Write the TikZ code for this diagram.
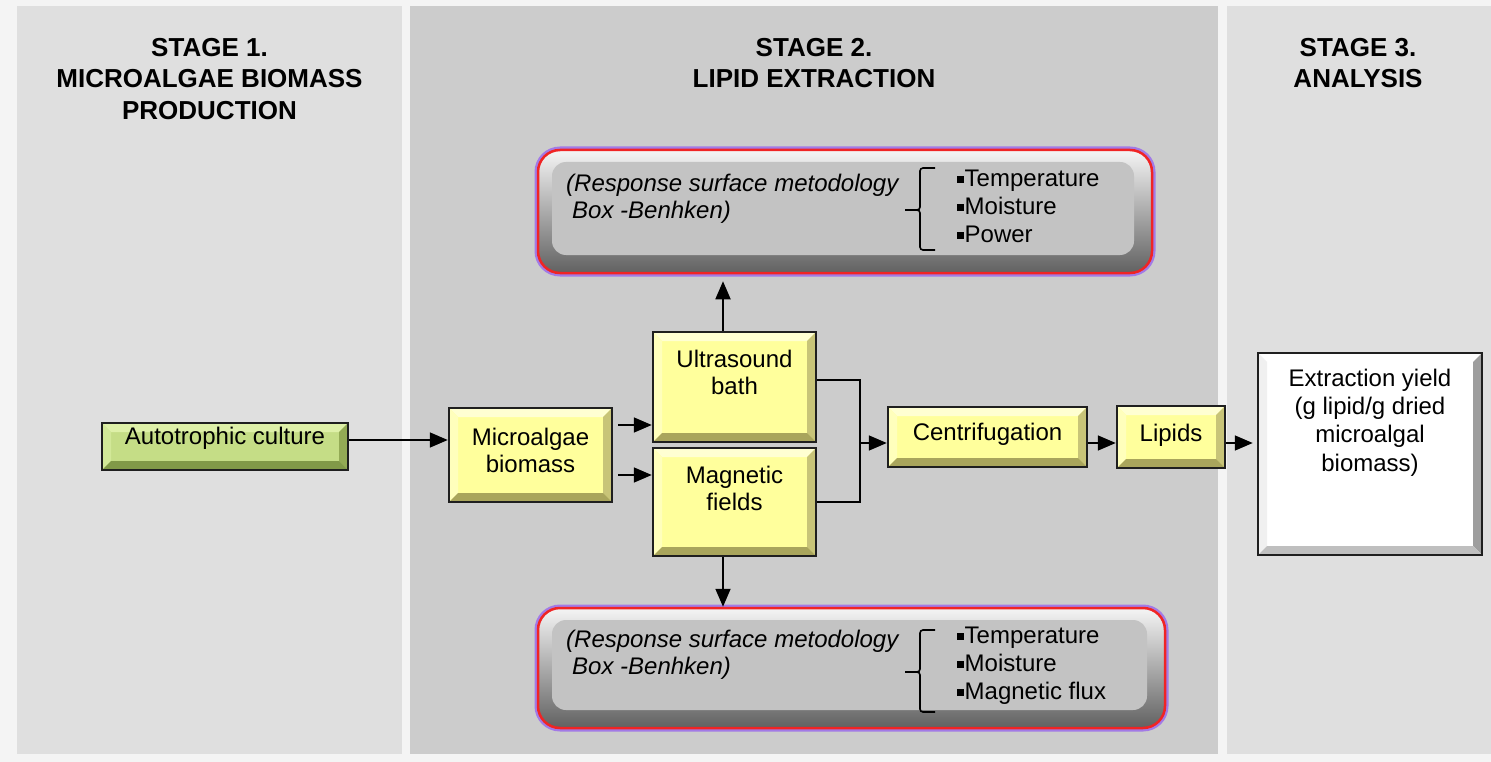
\documentclass[tikz,border=0pt]{standalone}
\usepackage{fontspec}
\setmainfont{Liberation Sans}
\usetikzlibrary{arrows.meta}

\definecolor{pagebg}{HTML}{F4F4F4}
\definecolor{sidepanel}{HTML}{DFDFDF}
\definecolor{midpanel}{HTML}{CCCCCC}
\definecolor{redline}{HTML}{F02424}
\definecolor{glowc}{HTML}{A27AE6}
\definecolor{gface}{HTML}{C3C3C3}
% yellow bevel
\definecolor{yface}{HTML}{FFFF9C}
\definecolor{ytop}{HTML}{FFFFD2}
\definecolor{yleft}{HTML}{FFFFBC}
\definecolor{yright}{HTML}{C8C478}
\definecolor{ybot}{HTML}{A9A55C}
% green bevel
\definecolor{nface}{HTML}{C5DD86}
\definecolor{ntop}{HTML}{DEF0A8}
\definecolor{nleft}{HTML}{D2E898}
\definecolor{nright}{HTML}{93AA55}
\definecolor{nbot}{HTML}{819948}

\newcommand{\sqbul}{\raisebox{3.5pt}{\rule{6.5pt}{6.5pt}}\hspace{1pt}}
\def\bw{9pt}

\tikzset{
  bevel/.style n args={5}{fill=#1, path picture={
    \fill[#2] (path picture bounding box.north west) -- (path picture bounding box.north east)
      -- ++(-\bw,-\bw) -- ([shift={(\bw,-\bw)}]path picture bounding box.north west) -- cycle;
    \fill[#3] (path picture bounding box.north west) -- (path picture bounding box.south west)
      -- ++(\bw,\bw) -- ([shift={(\bw,-\bw)}]path picture bounding box.north west) -- cycle;
    \fill[#4] (path picture bounding box.north east) -- (path picture bounding box.south east)
      -- ++(-\bw,\bw) -- ([shift={(-\bw,-\bw)}]path picture bounding box.north east) -- cycle;
    \fill[#5] (path picture bounding box.south west) -- (path picture bounding box.south east)
      -- ++(-\bw,\bw) -- ([shift={(\bw,\bw)}]path picture bounding box.south west) -- cycle;
  }},
  box/.style={draw=black!88, line width=2.5pt, inner sep=0pt},
  ybox/.style={box, bevel={yface}{ytop}{yleft}{yright}{ybot}},
  gnbox/.style={box, bevel={nface}{ntop}{nleft}{nright}{nbot}},
  wbox/.style={box, bevel={white}{white}{black!6}{black!38}{black!25}},
  gbox/.style={rounded corners=22pt, draw=redline, line width=2.5pt, top color=black!4, bottom color=black!62,
    preaction={draw=glowc, line width=7pt},
    path picture={\fill[gface, rounded corners=14pt] ([shift={(14pt,-12pt)}]path picture bounding box.north west)
      rectangle ([shift={(-18pt,18pt)}]path picture bounding box.south east);}},
  btext/.style={font=\fontsize{24}{27}\selectfont, align=center, inner sep=0pt},
  itext/.style={font=\fontsize{24}{27}\selectfont\itshape, align=left, inner sep=0pt},
  ltext/.style={font=\fontsize{24}{28}\selectfont, align=left, inner sep=0pt},
  head/.style={font=\fontsize{26}{31.5}\selectfont\bfseries, align=center, inner sep=0pt},
  line/.style={line width=1.8pt},
  arr/.style={line, -{Triangle[length=18pt,width=15pt]}},
  brace/.style={line width=1.6pt, rounded corners=3pt},
}

\begin{document}
\begin{tikzpicture}[x=1pt,y=-1pt]
\useasboundingbox (0,0) rectangle (1491,762);
\fill[pagebg] (0,0) rectangle (1491,762);
\fill[sidepanel] (17,6) rectangle (402,754);
\fill[midpanel] (410,6) rectangle (1218,754);
\fill[sidepanel] (1227,6) rectangle (1491,754);

% stage titles
\node[head] (s1) at (209.5,79) {STAGE 1.\\MICROALGAE BIOMASS\\PRODUCTION};
\node[head] (s2) at (814,63) {STAGE 2.\\LIPID EXTRACTION};
\node[head] (s3) at (1358,63) {STAGE 3.\\ANALYSIS};

% response surface boxes
\node[gbox, minimum width=614pt, minimum height=123pt] (rt) at (845,211.5) {};
\node[itext, anchor=west] (rtt) at (566,198.5) {(Response surface metodology\\\hspace{6pt}Box -Benhken)};
\draw[brace] (935,168) -- (920,168) -- (920,210) -- (905,210);
\draw[brace] (905,210) -- (920,210) -- (920,250) -- (935,250);
\node[ltext, anchor=west] (rti) at (957,206) {\sqbul Temperature\\\sqbul Moisture\\\sqbul Power};

\node[gbox, minimum width=627pt, minimum height=120pt] (rb) at (851.5,668) {};
\node[itext, anchor=west] (rbt) at (566,655) {(Response surface metodology\\\hspace{6pt}Box -Benhken)};
\draw[brace] (935,630) -- (920,630) -- (920,672) -- (905,672);
\draw[brace] (905,672) -- (920,672) -- (920,712) -- (935,712);
\node[ltext, anchor=west] (rbi) at (957,665.5) {\sqbul Temperature\\\sqbul Moisture\\\sqbul Magnetic flux};

% process boxes
\node[gnbox, minimum width=246pt, minimum height=47pt, label={[btext,yshift=8pt]center:Autotrophic culture}] (ac) at (225,446.5) {};
\node[ybox, minimum width=163pt, minimum height=94pt, label={[btext,yshift=5pt]center:{Microalgae\\biomass}}] (mb) at (530.5,455) {};
\node[ybox, minimum width=163pt, minimum height=110pt, label={[btext,yshift=14.5pt]center:{Ultrasound\\bath}}] (ub) at (734.5,387) {};
\node[ybox, minimum width=163pt, minimum height=108pt, label={[btext,yshift=13.5pt]center:{Magnetic\\fields}}] (mf) at (734.5,502) {};
\node[ybox, minimum width=199pt, minimum height=60pt, label={[btext,yshift=3pt]center:Centrifugation}] (cf) at (987.5,437) {};
\node[ybox, minimum width=108pt, minimum height=62pt, label={[btext,yshift=2pt]center:Lipids}] (lp) at (1171,437) {};
\node[wbox, minimum width=224pt, minimum height=202pt, label={[btext,yshift=31.5pt,font=\fontsize{24}{28.3}\selectfont]center:{Extraction yield\\(g lipid/g dried\\microalgal\\biomass)}}] (ey) at (1370,454) {};

% connectors
\coordinate (ua) at (618,425);
\coordinate (ma) at (618,475);
\coordinate (jn) at (860,443);
\draw[arr] ([yshift=6.5pt]ac.east) -- ([yshift=6.5pt]ac.east -| mb.west);
\draw[arr] (ua) -- (ua -| ub.west);
\draw[arr] (ma) -- (ma -| mf.west);
\draw[line] ([yshift=7pt]ub.east) -| (jn) |- (mf.east);
\draw[arr] (jn) -- (jn -| cf.west);
\draw[arr] (cf.east |- jn) -- (jn -| lp.west);
\draw[arr, shorten >=4pt] (lp.east |- jn) -- (jn -| ey.west);
\draw[arr, shorten >=7pt] ([xshift=-11.5pt]ub.north) -- ([xshift=-11.5pt]ub.north |- rt.south);
\draw[arr] ([xshift=-11.5pt]mf.south) -- ([xshift=-11.5pt]mf.south |- rb.north);
\end{tikzpicture}
\end{document}
